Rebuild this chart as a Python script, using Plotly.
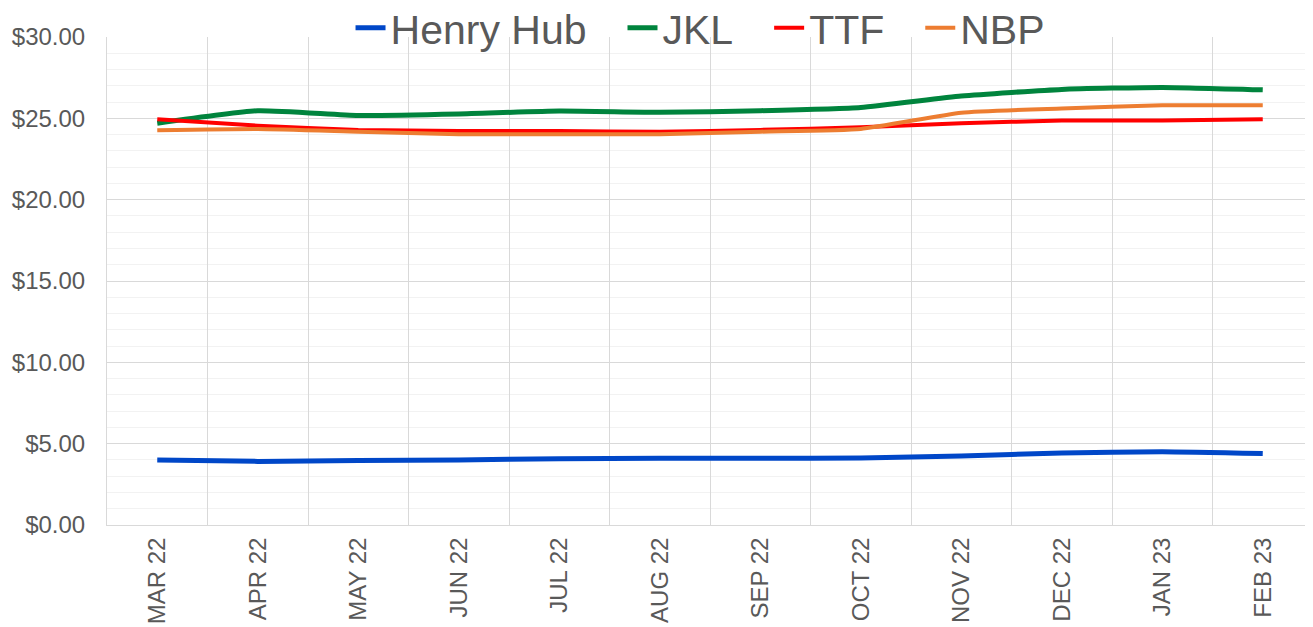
import plotly.graph_objects as go

months = ["MAR 22", "APR 22", "MAY 22", "JUN 22", "JUL 22", "AUG 22",
          "SEP 22", "OCT 22", "NOV 22", "DEC 22", "JAN 23", "FEB 23"]
henry_hub = [4.00, 3.91, 3.96, 4.00, 4.08, 4.10, 4.10, 4.12, 4.24, 4.43, 4.50, 4.39]
jkl = [24.70, 25.47, 25.18, 25.27, 25.45, 25.37, 25.47, 25.67, 26.37, 26.78, 26.90, 26.75]
ttf = [24.94, 24.55, 24.29, 24.22, 24.22, 24.18, 24.29, 24.45, 24.70, 24.86, 24.86, 24.94]
nbp = [24.27, 24.35, 24.18, 24.02, 24.02, 24.02, 24.18, 24.35, 25.35, 25.61, 25.80, 25.80]

PAD = "\u00a0\u00a0\u2009"
series = [
    ("Henry Hub", henry_hub, "#0047c8", 5),
    ("JKL", jkl, "#00843d", 5),
    ("TTF", ttf, "#ff0000", 4),
    ("NBP", nbp, "#ed7d31", 4),
]

fig = go.Figure()
for name, vals, color, w in series:
    fig.add_trace(go.Scatter(
        x=months, y=vals, name=name + PAD, mode="lines",
        line=dict(color=color, width=w, shape="spline", smoothing=0.5),
    ))

font_family = "Liberation Sans, Arial, sans-serif"
fig.update_layout(
    width=1305, height=619,
    margin=dict(l=99, r=0, t=29, b=102, autoexpand=False),
    paper_bgcolor="white", plot_bgcolor="white",
    font=dict(family=font_family, color="#595959"),
    showlegend=True,
    legend=dict(
        orientation="h", x=0.505, xanchor="center",
        yref="container", y=1 - 20 / 619, yanchor="middle",
        font=dict(size=41, color="#595959", family=font_family),
        bgcolor="rgba(0,0,0,0)", itemwidth=30, tracegroupgap=0,
    ),
)
fig.update_xaxes(
    type="category", range=[-0.5, 11.5], tickangle=-90, tickson="boundaries",
    showgrid=True, gridcolor="#d9d9d9", gridwidth=1,
    showline=True, linecolor="#d9d9d9", linewidth=1,
    ticks="", tickfont=dict(size=24, color="#595959"),
    automargin=False, ticklabelstandoff=2,
)
fig.update_yaxes(
    range=[0, 30], dtick=5, tickprefix="$", tickformat=".2f",
    showgrid=True, gridcolor="#d9d9d9", gridwidth=1,
    minor=dict(dtick=1, showgrid=True, gridcolor="#f2f2f2", gridwidth=1),
    showline=True, linecolor="#d9d9d9", linewidth=1,
    zeroline=False, ticks="", tickfont=dict(size=24, color="#595959"),
    automargin=False, ticklabelstandoff=16,
)

fig.write_html("out.html")
